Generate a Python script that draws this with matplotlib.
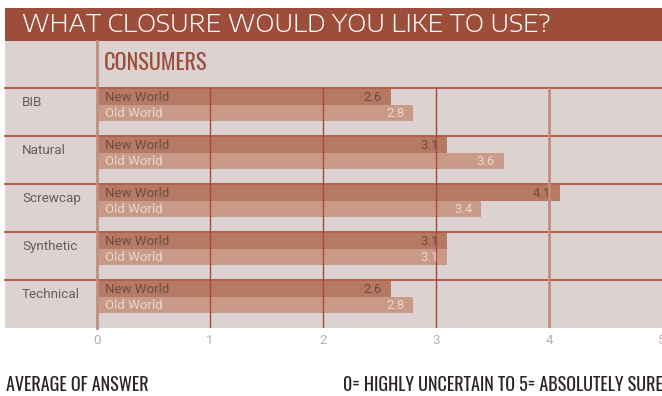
import matplotlib
matplotlib.use("Agg")
import matplotlib.pyplot as plt
import matplotlib.transforms as mtransforms
from matplotlib.patches import Rectangle
import numpy as np

# ---- data ----
categories = ["BIB", "Natural", "Screwcap", "Synthetic", "Technical"]
series_names = ["New World", "Old World"]
new_world = [2.6, 3.1, 4.1, 3.1, 2.6]
old_world = [2.8, 3.6, 3.4, 3.1, 2.8]
x_ticks = [0, 1, 2, 3, 4, 5]
title = "WHAT CLOSURE WOULD YOU LIKE TO USE?"
subtitle = "CONSUMERS"
footer_left = "AVERAGE OF ANSWER"
footer_right = "0= HIGHLY UNCERTAIN TO 5= ABSOLUTELY SURE"

# ---- style ----
W, H = 662, 396
BRICK = "#9d4e3a"
PANEL = "#dbd2d1"
GRID_DARK = "#ab4a36"
GRID_LIGHT = "#c28e7e"
NEW_C = "#b67a64"
OLD_C = "#c99a87"
NEW_TXT = "#6d4c43"
OLD_TXT = "#e6d7d3"
CAT_TXT = "#6a5d5b"
TICK_TXT = "#bcaeac"
BODY = "Roboto"
TITLE_FONT = "Encode Sans Expanded"
COND = "Oswald"

def fx(px):
    return px / W

def fy(py):
    return 1 - py / H

fig = plt.figure(figsize=(W / 100, H / 100), dpi=100)
fig.patch.set_facecolor("white")

# title band
fig.add_artist(Rectangle((fx(5), fy(41)), fx(657), 33 / H, transform=fig.transFigure,
                         facecolor=BRICK, edgecolor="none", zorder=0))
fig.text(fx(22), fy(24.5), title, color="white", fontsize=17, family=TITLE_FONT, weight=300,
         va="center", ha="left")

# panel
fig.add_artist(Rectangle((fx(5), fy(328)), fx(657), (328 - 41) / H, transform=fig.transFigure,
                         facecolor=PANEL, edgecolor="none", zorder=0))

ax = fig.add_axes([fx(97), fy(328), fx(565), (328 - 88) / H])
ax.set_facecolor("none")
n = len(categories)
ax.set_xlim(0, 5)
ax.set_ylim(n, 0)

bar_h = 16 / 48
y = np.arange(n)
y_new = y + 1 / 48 + bar_h / 2
y_old = y_new + bar_h
ax.barh(y_new, new_world, height=bar_h, color=NEW_C, zorder=2)
ax.barh(y_old, old_world, height=bar_h, color=OLD_C, zorder=2)

pad = 9 / 113
for i in range(n):
    ax.text(8 / 113, y_new[i] + 0.01, series_names[0], color=NEW_TXT, fontsize=9.5, family=BODY,
            va="center", ha="left", zorder=4)
    ax.text(8 / 113, y_old[i] + 0.01, series_names[1], color=OLD_TXT, fontsize=9.5, family=BODY,
            va="center", ha="left", zorder=4)
    ax.text(new_world[i] - pad, y_new[i] + 0.01, f"{new_world[i]:.1f}", color=NEW_TXT, fontsize=9.5,
            family=BODY, va="center", ha="right", zorder=4)
    ax.text(old_world[i] - pad, y_old[i] + 0.01, f"{old_world[i]:.1f}", color=OLD_TXT, fontsize=9.5,
            family=BODY, va="center", ha="right", zorder=4)

# category labels left of axes
blend = mtransforms.blended_transform_factory(fig.transFigure, ax.transData)
for i, c in enumerate(categories):
    ax.text(fx(22), i + 0.31, c, transform=blend, color=CAT_TXT, fontsize=9.7, family=BODY,
            va="center", ha="left", clip_on=False)

# row separators
for i in range(n):
    ax.plot([fx(5), 1], [i, i], transform=blend, color=GRID_DARK, lw=1.2, clip_on=False, zorder=3)

# vertical grid
for t in x_ticks[1:-1]:
    if t == 4:
        ax.axvline(t, color=GRID_LIGHT, lw=2, zorder=3)
    else:
        ax.axvline(t, color=GRID_DARK, lw=1, zorder=3)
ax.axvline(0, ymin=0, ymax=(328 - 41) / (328 - 88), color=GRID_LIGHT, lw=2, zorder=3, clip_on=False)

for s in ax.spines.values():
    s.set_visible(False)
ax.set_yticks([])
ax.set_xticks(x_ticks)
ax.set_xticklabels([str(t) for t in x_ticks], color=TICK_TXT, fontsize=9.5, family=BODY)
ax.tick_params(axis="x", length=0, pad=4)

fig.text(fx(104), fy(63.5), subtitle, color=BRICK, fontsize=16, family=COND, weight=500,
         va="center", ha="left")

fig.text(fx(6), fy(385), footer_left, color="#2a2321", fontsize=13, family=COND, weight=600,
         va="center", ha="left")
fig.text(fx(663), fy(385), footer_right, color="#2a2321", fontsize=13, family=COND, weight=600,
         va="center", ha="right")

fig.savefig("out.png", dpi=100, facecolor="white")
